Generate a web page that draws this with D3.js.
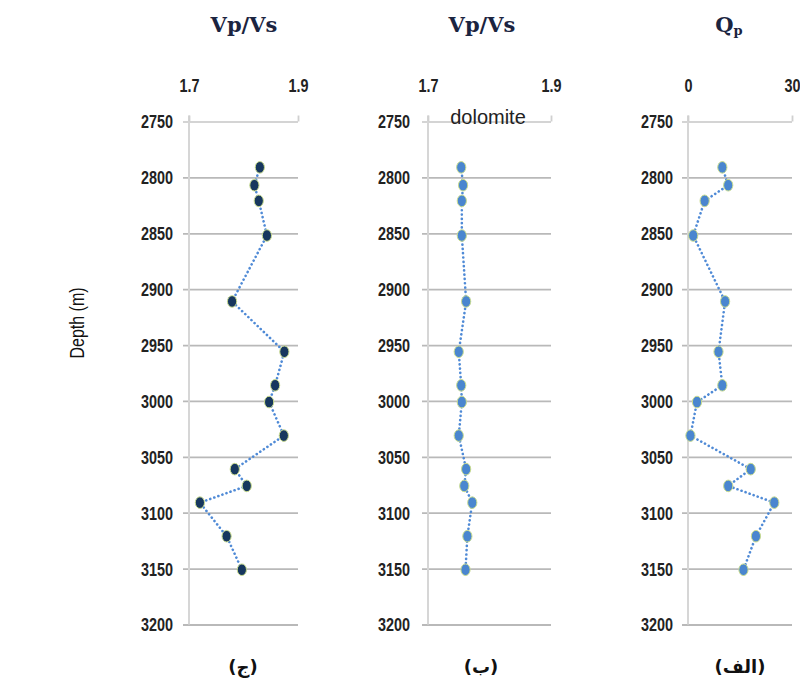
<!DOCTYPE html>
<html>
<head>
<meta charset="utf-8">
<script src="https://cdn.jsdelivr.net/npm/d3@7"></script>
<style>
  html, body { margin: 0; padding: 0; background: #ffffff; }
  svg { display: block; }
  .tick text { font-family: "Liberation Sans", Arial, sans-serif; font-weight: bold; font-size: 18px; fill: #222; }
</style>
</head>
<body>
<svg id="chart" width="800" height="683"></svg>
<script>
// ---- data ----
const depths   = [2791, 2807, 2821, 2852, 2911, 2956, 2986, 3001, 3031, 3061, 3076, 3091, 3121, 3151];
const vpvsJim  = [1.830, 1.820, 1.828, 1.843, 1.779, 1.875, 1.858, 1.847, 1.874, 1.784, 1.806, 1.720, 1.769, 1.797];
const vpvsBe   = [1.754, 1.757, 1.755, 1.755, 1.762, 1.750, 1.754, 1.755, 1.750, 1.762, 1.759, 1.772, 1.764, 1.761];
const qpAlef   = [9.9, 11.6, 4.8, 1.5, 10.7, 8.8, 9.9, 2.6, 0.7, 18.1, 11.6, 24.9, 19.6, 16.0];
const depthTicks = [2750, 2800, 2850, 2900, 2950, 3000, 3050, 3100, 3150, 3200];
const vpvsTicks  = [1.7, 1.9];
const qpTicks    = [0, 30];
const panelLabels = ["(ج)", "(ب)", "(الف)"];

const svg = d3.select("#chart");
const y = d3.scaleLinear().domain([2750, 3200]).range([121.5, 624.5]);
const SX = 0.8; // horizontal condensing of the sans labels

const panels = [
  { values: vpvsJim, domain: [1.7, 1.9], ticks: vpvsTicks, x0: 189, x1: 298, pad: 10, fill: "#17375e", title: "Vp/Vs", label: panelLabels[0], labelX: 243, titleX: 244 },
  { values: vpvsBe,  domain: [1.7, 1.9], ticks: vpvsTicks, x0: 428, x1: 551, pad: 12, fill: "#4a86cf", title: "Vp/Vs", label: panelLabels[1], labelX: 481, titleX: 482 },
  { values: qpAlef,  domain: [0, 30],    ticks: qpTicks,   x0: 688, x1: 792, pad: 9,  fill: "#4a86cf", title: "Q",     label: panelLabels[2], labelX: 740, titleX: 729 }
];

panels.forEach((p, i) => {
  const x = d3.scaleLinear().domain(p.domain).range([p.x0, p.x1]);
  const gridStart = p.x0 - 6;

  // y axis with gridlines
  const ya = svg.append("g")
    .attr("transform", `translate(${gridStart},0)`)
    .call(d3.axisLeft(y).tickValues(depthTicks).tickSize(-(p.x1 - gridStart)).tickPadding(p.pad).tickFormat(d3.format("d")));
  ya.select(".domain").remove();
  ya.selectAll(".tick line")
    .attr("stroke", d => d === 2750 ? "#d4d4d4" : "#b9b9b9")
    .attr("stroke-width", 1.8);
  ya.selectAll(".tick text")
    .attr("x", 0)
    .attr("dy", "0.36em")
    .attr("transform", `translate(${-p.pad},0) scale(${SX},1)`);

  // vertical axis line
  svg.append("line")
    .attr("x1", p.x0).attr("x2", p.x0)
    .attr("y1", y(2750) - 6).attr("y2", y(3200))
    .attr("stroke", "#d6d6d6").attr("stroke-width", 2);

  // top x axis
  const xa = svg.append("g")
    .attr("transform", `translate(0,${y(2750)})`)
    .call(d3.axisTop(x).tickValues(p.ticks).tickSize(6).tickSizeOuter(0).tickPadding(24).tickFormat(d => String(d)));
  xa.select(".domain").remove();
  xa.selectAll(".tick line").attr("stroke", "#d0d0d0").attr("stroke-width", 1.8);
  xa.selectAll(".tick text").attr("transform", `scale(${SX},1)`);

  // dotted line
  const line = d3.line().x(d => x(d[0])).y(d => y(d[1]));
  const pts = p.values.map((v, k) => [v, depths[k]]);
  svg.append("path")
    .datum(pts)
    .attr("d", line)
    .attr("fill", "none")
    .attr("stroke", "#4f8ad6")
    .attr("stroke-width", 2.6)
    .attr("stroke-linecap", "round")
    .attr("stroke-dasharray", "0.1 4.2");

  // markers
  svg.append("g").selectAll("ellipse")
    .data(pts)
    .join("ellipse")
    .attr("cx", d => x(d[0]))
    .attr("cy", d => y(d[1]))
    .attr("rx", 4.6)
    .attr("ry", 5.8)
    .attr("fill", p.fill)
    .attr("stroke", "#c9dc8e")
    .attr("stroke-width", 1);

  // title
  const t = svg.append("text")
    .attr("x", p.titleX)
    .attr("y", 32)
    .attr("text-anchor", "middle")
    .attr("font-family", "'DejaVu Serif', 'Liberation Serif', serif")
    .attr("font-weight", "bold")
    .attr("font-size", 21)
    .attr("fill", "#1b2440")
    .text(p.title);
  if (i === 2) {
    t.append("tspan").attr("font-size", 13).attr("dy", 3).text("p");
  }

  // bottom label
  svg.append("text")
    .attr("x", p.labelX)
    .attr("y", 673)
    .attr("text-anchor", "middle")
    .attr("font-family", "'DejaVu Sans', sans-serif")
    .attr("font-weight", "bold")
    .attr("font-size", 18)
    .attr("fill", "#111")
    .text(p.label);
});

// dolomite label
svg.append("text")
  .attr("x", 488)
  .attr("y", 124)
  .attr("text-anchor", "middle")
  .attr("font-family", "'Liberation Sans', sans-serif")
  .attr("font-size", 20)
  .attr("fill", "#222")
  .text("dolomite");

// depth label
svg.append("text")
  .attr("transform", `translate(84,323) rotate(-90) scale(${SX},1)`)
  .attr("text-anchor", "middle")
  .attr("font-family", "'Liberation Sans', sans-serif")
  .attr("font-size", 20)
  .attr("fill", "#111")
  .text("Depth (m)");
</script>
</body>
</html>
